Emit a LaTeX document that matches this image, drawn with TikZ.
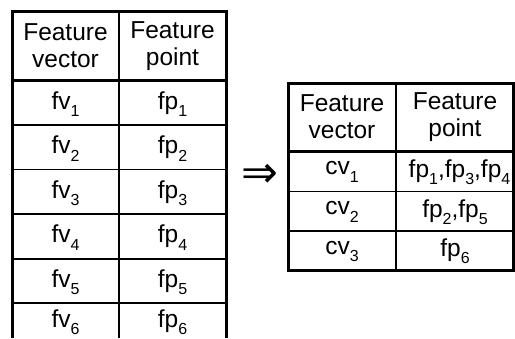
\documentclass[tikz,border=0pt]{standalone}
\usepackage{fontspec}
\setmainfont{Liberation Sans}
\newfontfamily\arrowfont{DejaVu Sans}
\newcommand{\sbs}[1]{\raisebox{-0.3em}{\fontsize{16}{16}\selectfont #1}}
\tikzset{
  x=1pt, y=-1pt,
  thickrule/.style={line width=3pt},
  thinrule/.style={line width=1.3pt},
  midrule/.style={line width=1.6pt},
  cell/.style={inner sep=0pt, align=center, font=\fontsize{24.5}{27}\selectfont},
}
\begin{document}
\begin{tikzpicture}
\useasboundingbox (0,0) rectangle (515,338);

% ---- left table: one feature vector per feature point ----
\draw[thinrule] (12,125) -- (226,125) (12,169.5) -- (226,169.5)
  (12,214) -- (226,214) (12,259) -- (226,259) (12,303) -- (226,303);
\draw[midrule] (119,11.7) -- (119,338);
\draw[thickrule] (12,338) -- (12,11.7) -- (226,11.7) -- (226,338);
\draw[thickrule] (12,80.5) -- (226,80.5);

\node[cell] (lh1) at (65.5,46) {Feature\\vector};
\node[cell] (lh2) at (172.5,46) {Feature\\point};
\foreach \i/\y in {1/104,2/148.5,3/193,4/237.5,5/282,6/322.5}{
  \node[cell] (lv\i) at (65.5,\y) {fv\sbs{\i}};
  \node[cell] (lp\i) at (172.5,\y) {fp\sbs{\i}};
}

% ---- arrow ----
\node[inner sep=0pt, font=\arrowfont\fontsize{44}{44}\selectfont] (arr) at (259.5,176) {⇒};

% ---- right table: clustered vectors ----
\draw[thinrule] (288.3,191.5) -- (513.5,191.5) (288.3,231) -- (513.5,231);
\draw[midrule] (395.7,83.3) -- (395.7,270);
\draw[thickrule] (288.3,83.3) rectangle (513.5,270);
\draw[thickrule] (288.3,151) -- (513.5,151);

\node[cell] (rh1) at (342,117) {Feature\\vector};
\node[cell] (rh2) at (455,117) {Feature\\point};
\node[cell] (rv1) at (342,172) {cv\sbs{1}};
\node[cell] (rv2) at (342,212) {cv\sbs{2}};
\node[cell] (rv3) at (342,251.5) {cv\sbs{3}};
\node[cell] (rp1) at (459.5,172) {fp\sbs{1},fp\sbs{3},fp\sbs{4}};
\node[cell] (rp2) at (455,212) {fp\sbs{2},fp\sbs{5}};
\node[cell] (rp3) at (455,251.5) {fp\sbs{6}};
\end{tikzpicture}
\end{document}
